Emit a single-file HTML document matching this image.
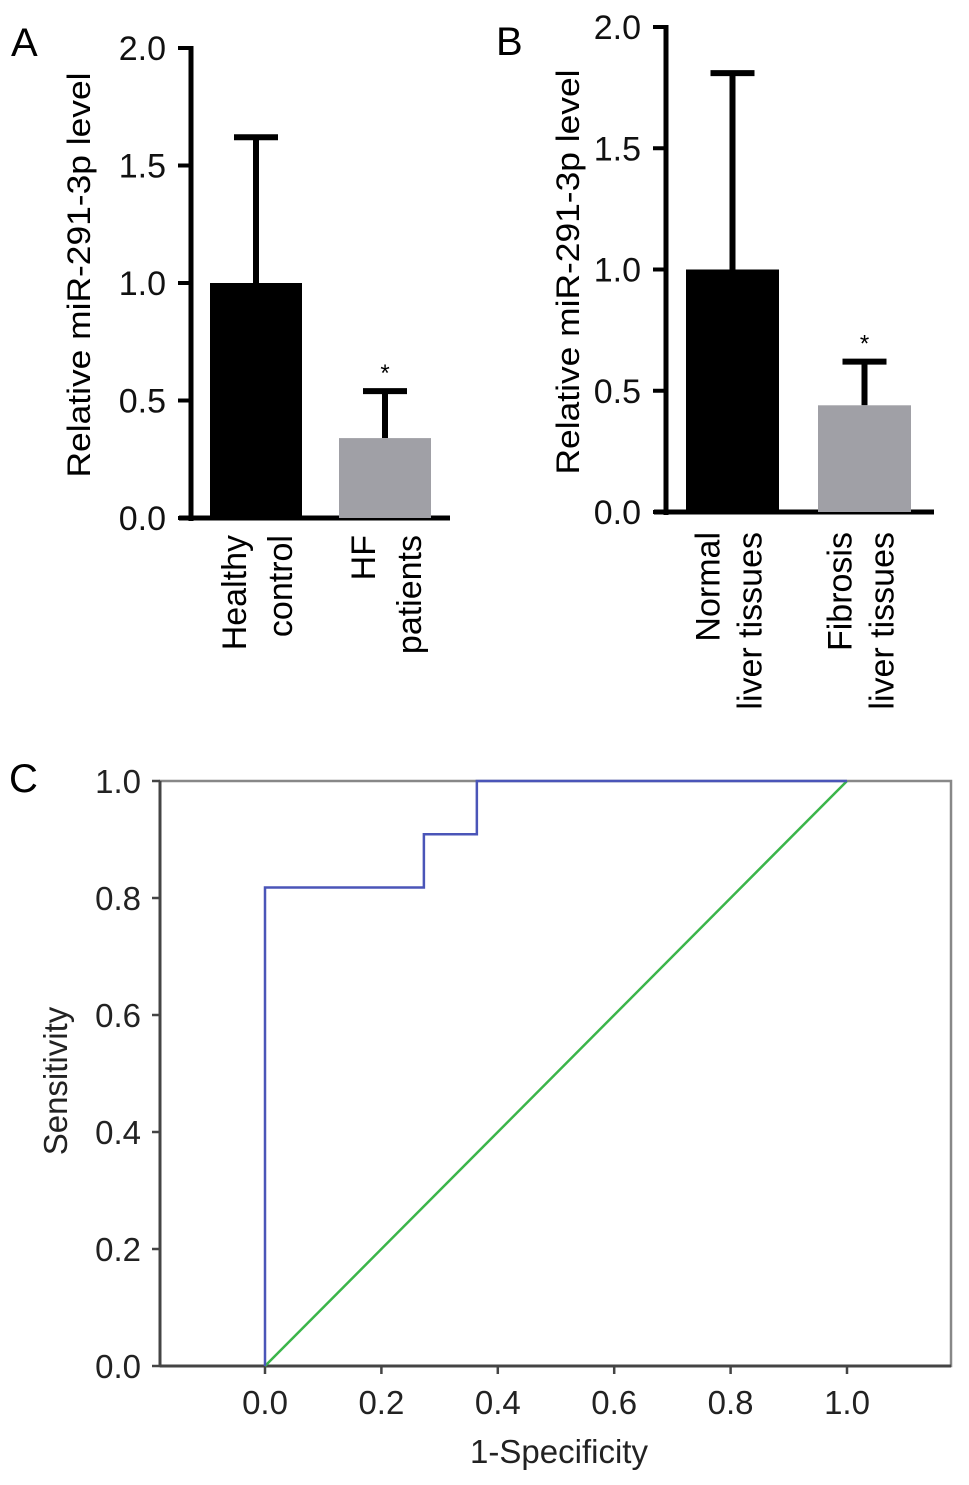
<!DOCTYPE html>
<html><head><meta charset="utf-8"><style>
html,body{margin:0;padding:0;background:#fff;}
svg{display:block;font-family:"Liberation Sans",Arial,sans-serif;}
</style></head><body>
<svg id="fig" width="969" height="1485" viewBox="0 0 969 1485" xmlns="http://www.w3.org/2000/svg"></svg>
<script>
// ----- Panel A data -----
const catsA = [["Healthy","control"],["HF","patients"]];
const meansA = [1.0, 0.34];
const errsA = [1.62, 0.54];
// ----- Panel B data -----
const catsB = [["Normal","liver tissues"],["Fibrosis","liver tissues"]];
const meansB = [1.0, 0.44];
const errsB = [1.81, 0.62];
const barTicks = [0, 0.5, 1.0, 1.5, 2.0];
const barTickLabels = ["0.0","0.5","1.0","1.5","2.0"];
// ----- Panel C data -----
const rocX = [0, 0, 0.273, 0.273, 0.364, 0.364, 1.0];
const rocY = [0, 0.818, 0.818, 0.909, 0.909, 1.0, 1.0];
const refX = [0, 1];
const refY = [0, 1];
const rocTicks = [0, 0.2, 0.4, 0.6, 0.8, 1.0];
const rocTickLabels = ["0.0","0.2","0.4","0.6","0.8","1.0"];

const NS = "http://www.w3.org/2000/svg";
const svg = document.getElementById("fig");
function mk(tag, attrs, parent, text){
  const e = document.createElementNS(NS, tag);
  for (const k in attrs) e.setAttribute(k, attrs[k]);
  if (text !== undefined) e.textContent = text;
  (parent||svg).appendChild(e);
  return e;
}

function barPanel(cfg){
  const g = mk("g", {});
  
  
  const y = v => cfg.y0 + (cfg.y2 - cfg.y0) * v / 2.0;
  const lbl = mk("text", {x:cfg.lx, y:cfg.ly, "font-size":40}, g, cfg.letter);
  
  
  const ax = mk("line", {x1:cfg.ax, x2:cfg.ax, y1:y(2.0)-2, y2:y(0)+3, stroke:"#000","stroke-width":5}, g);
  
  
  const xa = mk("line", {x1:cfg.ax-12, x2:cfg.xend, y1:y(0), y2:y(0), stroke:"#000","stroke-width":5}, g);
  
  
  barTicks.forEach((t,i)=>{
    const tk = mk("line", {x1:cfg.ax-13, x2:cfg.ax, y1:y(t), y2:y(t), stroke:"#000","stroke-width":4}, g);
    
    
    const tl = mk("text", {x:cfg.ax-25, y:y(t)+12, "font-size":34, "text-anchor":"end", fill:"#111"}, g, barTickLabels[i]);
    
    
  });
  const yt = mk("text", {transform:`translate(${cfg.tx},${cfg.ty}) rotate(-90)`, "font-size":32, "text-anchor":"middle", textLength:405, lengthAdjust:"spacingAndGlyphs"}, g, "Relative miR-291-3p level");
  
  
  cfg.means.forEach((m,i)=>{
    const x0 = cfg.bx[i], w = cfg.bw, cx = x0 + w/2;
    const eb = mk("line", {x1:cx, x2:cx, y1:y(m), y2:y(cfg.errs[i]), stroke:"#000","stroke-width":6}, g);
    
    
    const cap = mk("line", {x1:cx-22, x2:cx+22, y1:y(cfg.errs[i]), y2:y(cfg.errs[i]), stroke:"#000","stroke-width":6}, g);
    
    
    const b = mk("rect", {x:x0, y:y(m), width:w, height:y(0)-y(m), fill:cfg.colors[i]}, g);
    
    
    if (i===1){
      const st = mk("text", {x:cx, y:y(cfg.errs[i])-10, "font-size":24, "text-anchor":"middle"}, g, "*");
      
      
    }
    cfg.cats[i].forEach((line,j)=>{
      const lx = cx - 10 + j*cfg.gap + cfg.labShift;
      const t = mk("text", {transform:`translate(${lx},${cfg.labTop}) rotate(-90)`, "font-size":34, "text-anchor":"end"}, g, line);
      
      
    });
  });
}

barPanel({name:"panel-a", letter:"A", lx:11, ly:56, y0:518, y2:48, ax:191, xend:450,
  bx:[210,339], bw:92, means:meansA, errs:errsA, cats:catsA, colors:["#000","#a0a0a6"],
  tx:90, ty:275, labTop:535, labShift:0, gap:46});
barPanel({name:"panel-b", letter:"B", lx:496, ly:55, y0:512, y2:27, ax:666, xend:934,
  bx:[686,818], bw:93, means:meansB, errs:errsB, cats:catsB, colors:["#000","#a0a0a6"],
  tx:579, ty:272, labTop:532, labShift:-3, gap:42});

// ----- Panel C -----
const gC = mk("g", {});


const X0 = 265, X1 = 847, Y0 = 1366, Y1 = 781;
const sx = v => X0 + (X1-X0)*v;
const sy = v => Y0 + (Y1-Y0)*v;
const cl = mk("text", {x:9, y:792, "font-size":40}, gC, "C");


const box = mk("rect", {x:160, y:Y1, width:951-160, height:Y0-Y1, fill:"none", stroke:"#888", "stroke-width":2.5}, gC);


const la = mk("line", {x1:160,x2:160,y1:Y1,y2:Y0,stroke:"#444","stroke-width":3}, gC);


const ba = mk("line", {x1:160,x2:951,y1:Y0,y2:Y0,stroke:"#444","stroke-width":3}, gC);


rocTicks.forEach((t,i)=>{
  const a = mk("line", {x1:152,x2:160,y1:sy(t),y2:sy(t),stroke:"#444","stroke-width":2.5}, gC);
  
  
  const b = mk("text", {x:141, y:sy(t)+12, "font-size":33, "text-anchor":"end", fill:"#222"}, gC, rocTickLabels[i]);
  
  
  const c = mk("line", {x1:sx(t),x2:sx(t),y1:Y0,y2:Y0+8,stroke:"#444","stroke-width":2.5}, gC);
  
  
  const d = mk("text", {x:sx(t), y:1414, "font-size":33, "text-anchor":"middle", fill:"#222"}, gC, rocTickLabels[i]);
  
  
});
const ref = mk("polyline", {points: refX.map((v,i)=>sx(v)+","+sy(refY[i])).join(" "), fill:"none", stroke:"#3bb54a", "stroke-width":2.5}, gC);


const roc = mk("polyline", {points: rocX.map((v,i)=>sx(v)+","+sy(rocY[i])).join(" "), fill:"none", stroke:"#4a55b8", "stroke-width":2.5}, gC);


const xt = mk("text", {x:sx(0.5)+3, y:1463, "font-size":33, "text-anchor":"middle", fill:"#222"}, gC, "1-Specificity");


const yt = mk("text", {transform:"translate(67,1081) rotate(-90)", "font-size":33, "text-anchor":"middle", fill:"#222"}, gC, "Sensitivity");


</script>
</body></html>
